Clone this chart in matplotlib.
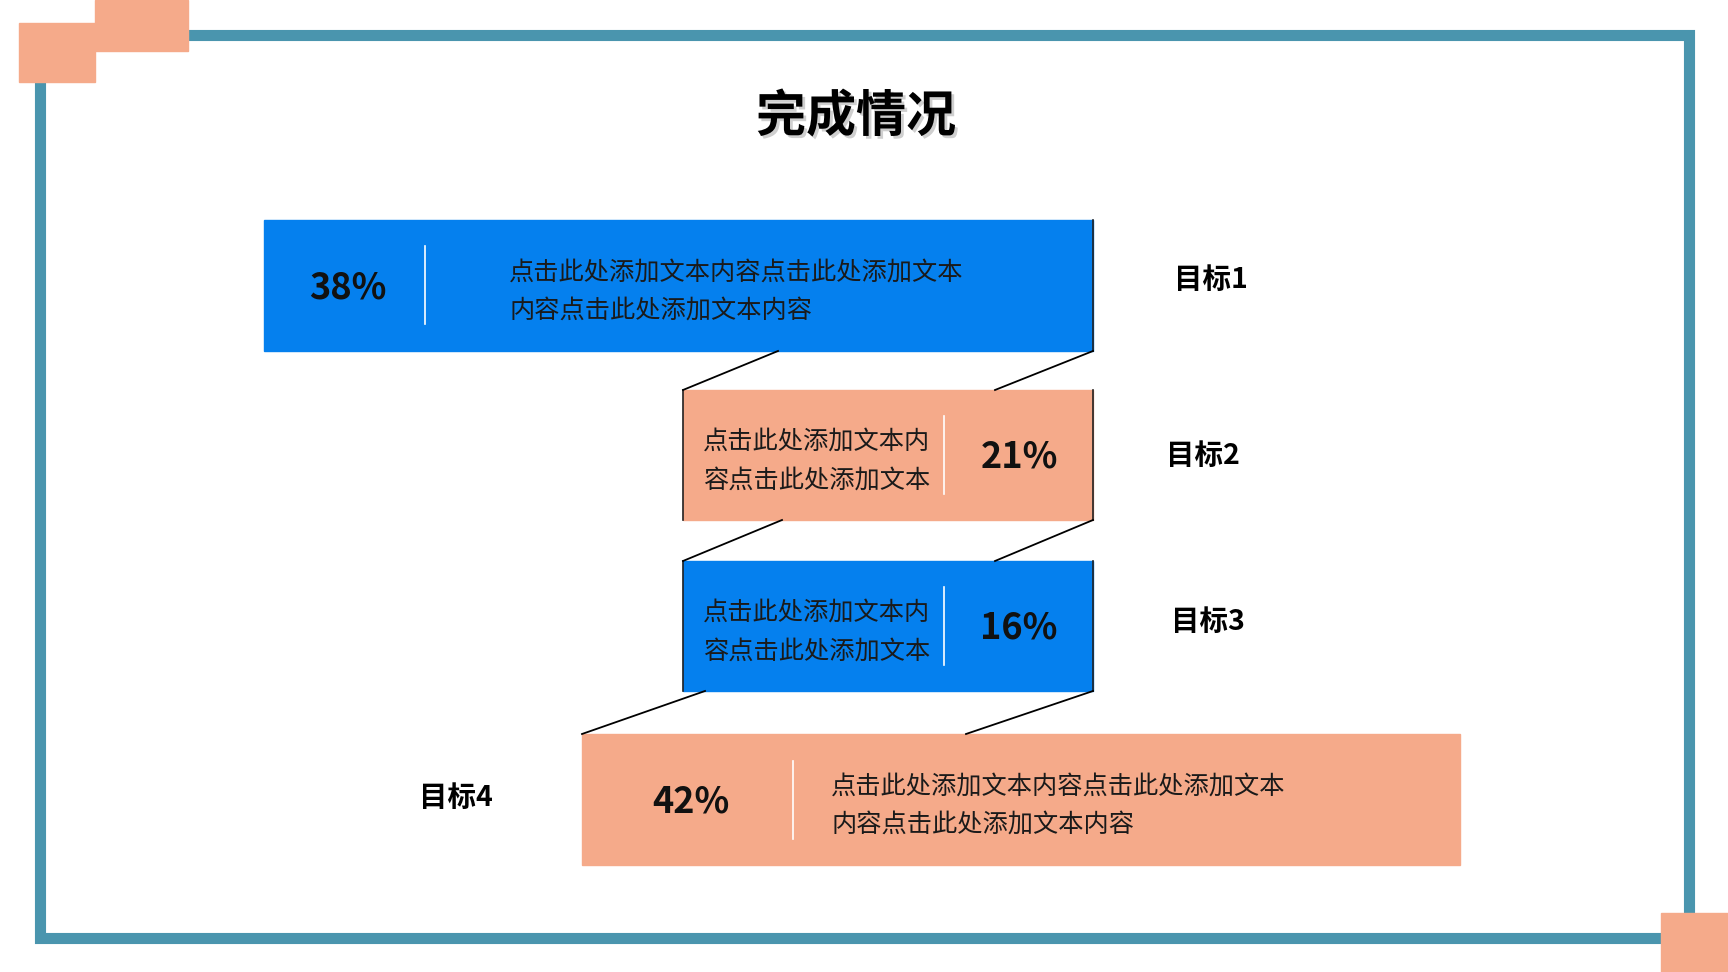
import matplotlib.pyplot as plt
from matplotlib.patches import Rectangle
import matplotlib.patheffects as pe

plt.rcParams['font.family'] = ['Noto Sans CJK SC', 'DejaVu Sans']

# data
title = "完成情况"
goals = ["目标1", "目标2", "目标3", "目标4"]
percents = [38, 21, 16, 42]
long_text = "点击此处添加文本内容点击此处添加文本\n内容点击此处添加文本内容"
short_text = "点击此处添加文本内\n容点击此处添加文本"
texts = [long_text, short_text, short_text, long_text]

# layout (pixel coords, y down)
BLUE = "#0580EE"
ORANGE = "#F5AA8A"
TEAL = "#4A95AE"
colors = [BLUE, ORANGE, BLUE, ORANGE]
bars = [(264, 220, 1093, 351), (683, 390, 1093, 520), (683, 561, 1093, 691), (582, 734, 1460, 865)]
pct_x = [348, 1019, 1019, 691]
div_x = [425, 944, 944, 793]
txt_x = [509, 703, 703, 831]
goal_pos = [(1211, 280), (1203, 456), (1208, 622), (456, 798)]
links = [
    [((778, 351), (683, 390)), ((1093, 351), (995, 390))],
    [((782, 520), (683, 561)), ((1093, 520), (995, 561))],
    [((705, 691), (582, 734)), ((1093, 691), (966, 734))],
]

fig = plt.figure(figsize=(17.28, 9.72), dpi=100)
ax = fig.add_axes([0, 0, 1, 1])
ax.set_xlim(0, 1728)
ax.set_ylim(972, 0)
ax.axis("off")

# frame and corner squares
ax.add_patch(Rectangle((39.5, 35), 1688.5 - 39.5, 938 - 35, fill=False, ec=TEAL, lw=8))
ax.add_patch(Rectangle((19, 23), 76, 59, color=ORANGE, zorder=3))
ax.add_patch(Rectangle((95, 0), 93, 51, color=ORANGE, zorder=3))
ax.add_patch(Rectangle((1661, 913), 67, 59, color=ORANGE, zorder=3))

ax.text(856, 117, title, ha="center", va="center", fontsize=36, fontweight="bold",
        color="black",
        path_effects=[pe.withSimplePatchShadow(offset=(2, -2), shadow_rgbFace="#888888", alpha=0.4)])

for i, (x0, y0, x1, y1) in enumerate(bars):
    ax.add_patch(Rectangle((x0, y0), x1 - x0, y1 - y0, color=colors[i], zorder=2))
    cy = (y0 + y1) / 2
    ax.text(pct_x[i], cy + 2, f"{percents[i]}%", ha="center", va="center",
            fontsize=26, fontweight="bold", color="#111111", zorder=4)
    ax.plot([div_x[i], div_x[i]], [cy - 39, cy + 39], color="white", lw=1.2, zorder=4)
    ax.text(txt_x[i], cy + 6, texts[i], ha="left", va="center", fontsize=18.2,
            color="#1a1a1a", linespacing=1.62, zorder=4)
    ax.text(goal_pos[i][0], goal_pos[i][1], goals[i], ha="center", va="center",
            fontsize=20.5, fontweight="bold", color="black")
    # dark side edges of the folded ribbon
    if i < 3:
        ax.plot([x1, x1], [y0, y1], color="#222222", lw=1.2, zorder=3)
    if i in (1, 2):
        ax.plot([x0, x0], [y0, y1], color="#222222", lw=1.2, zorder=3)

for pair in links:
    for (xa, ya), (xb, yb) in pair:
        ax.plot([xa, xb], [ya, yb], color="black", lw=1.3, zorder=3)

fig.savefig("out.png", dpi=100)
